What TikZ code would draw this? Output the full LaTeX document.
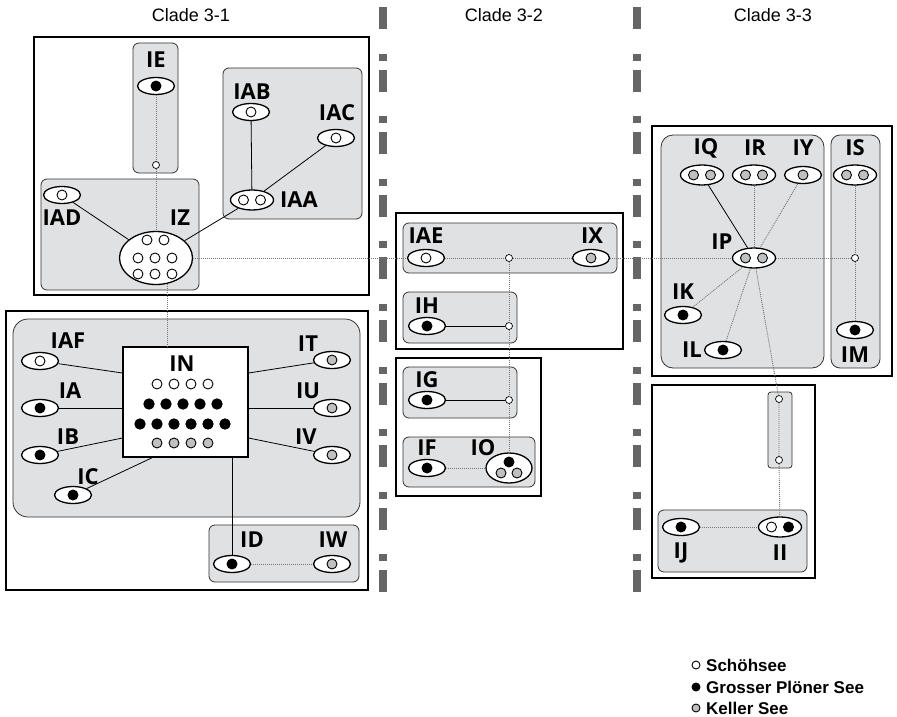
\documentclass[tikz,border=0pt]{standalone}
\usepackage{fontspec}
\setmainfont{Liberation Sans}
\newfontfamily\labfont{Open Sans}
\usetikzlibrary{shapes.geometric,positioning}
\definecolor{boxGray}{HTML}{E0E1E3}
\definecolor{kellerGray}{HTML}{BFC0C2}
\definecolor{divGray}{HTML}{666666}
\definecolor{linkGray}{HTML}{777777}

\begin{document}
\begin{tikzpicture}[x=1pt,y=-1pt,
  pop/.style={ellipse,draw,line width=1.3pt,fill=white,
              minimum width=37pt,minimum height=17pt,inner sep=0pt},
  pop2/.style={pop,minimum width=43pt,minimum height=20pt},
  lab/.style={font=\labfont\bfseries\fontsize{22}{22}\selectfont,inner sep=0pt},
  head/.style={font=\fontsize{18}{18}\selectfont,inner sep=0pt},
  legend/.style={font=\bfseries\fontsize{17}{17}\selectfont,inner sep=0pt},
  group/.style={draw=black!80,line width=0.8pt,fill=boxGray,rounded corners=6pt},
  clade/.style={draw,line width=2.6pt},
  link/.style={line width=0.8pt},
  weak/.style={draw=linkGray,line width=0.9pt,dash pattern=on 1pt off 1pt},
  hub/.style={circle,draw,line width=0.7pt,fill=white,inner sep=0pt,minimum size=7pt},
  wS/.style={draw,line width=0.9pt,fill=white},
  bP/.style={draw,line width=0.9pt,fill=black},
  gK/.style={draw,line width=0.9pt,fill=kellerGray},
  key/.style={circle,inner sep=0pt,minimum size=8pt},
  divider/.style={draw=divGray,line width=8pt,
                  dash pattern=on 22pt off 24.6pt on 7pt off 9pt},
]
\useasboundingbox (0,0) rectangle (897,717);

% clade dividers and headings
\draw[divider] (383,7) -- (383,594);
\draw[divider] (637,7) -- (637,594);
\node[head] (c31) at (191,15) {Clade 3-1};
\node[head] (c32) at (504,15) {Clade 3-2};
\node[head] (c33) at (773,15) {Clade 3-3};

% frames
\draw[clade] (34,37) rectangle (369,295);
\draw[clade] (6,311) rectangle (368,590);
\draw[clade] (396,213) rectangle (623,349);
\draw[clade] (396,358) rectangle (541,496);
\draw[clade] (652,126) rectangle (892,376);
\draw[clade] (652,385) rectangle (815,578);

\draw[group] (133,43) rectangle (178,173);
\draw[group] (223,68) rectangle (362,219);
\draw[group] (41,179) rectangle (199,290);
\draw[group,rounded corners=15pt] (13,319) rectangle (360,517);
\draw[group] (209,525) rectangle (359,582);
\draw[group] (403,223) rectangle (617,273);
\draw[group] (403,292) rectangle (517,343);
\draw[group] (403,367) rectangle (517,418);
\draw[group] (403,437) rectangle (535,487);
\draw[group,rounded corners=12pt] (661,135) rectangle (824,368);
\draw[group,rounded corners=9pt] (831,135) rectangle (880,368);
\draw[group,rounded corners=3pt] (768,392) rectangle (792,468);
\draw[group] (658,510) rectangle (807,572);

% clade 3-1
\node[pop]  (IE)  at (156,86)  {};
\node[hub]  (hIE) at (156,165) {};
\node[pop]  (IAB) at (251,112) {};
\node[pop]  (IAC) at (336,138) {};
\node[pop2] (IAA) at (252,200) {};
\node[pop]  (IAD) at (62,195)  {};
\node[pop,minimum width=73pt,minimum height=53pt] (IZ) at (156,258) {};
\node[draw,line width=1.1pt,fill=white,minimum width=125pt,minimum height=110pt,
      inner sep=0pt] (IN) at (185.5,402) {};
\node[pop] (IAF) at (40,361) {};
\node[pop] (IA)  at (40,408) {};
\node[pop] (IB)  at (40,455) {};
\node[pop] (IC)  at (73,495) {};
\node[pop] (IT)  at (332,360) {};
\node[pop] (IU)  at (332,408) {};
\node[pop] (IV)  at (332,455) {};
\node[pop] (ID)  at (232,564) {};
\node[pop] (IW)  at (332,564) {};

\node[lab] at (156,60)  {IE};
\node[lab] at (252,92)  {IAB};
\node[lab] at (337,113) {IAC};
\node[lab] at (299,200) {IAA};
\node[lab] at (62,218)  {IAD};
\node[lab] at (180,218) {IZ};
\node[lab] at (182,364) {IN};
\node[lab] at (68,341)  {IAF};
\node[lab] at (70,391)  {IA};
\node[lab] at (68,437)  {IB};
\node[lab] at (88,477)  {IC};
\node[lab] at (308,344) {IT};
\node[lab] at (308,391) {IU};
\node[lab] at (306,437) {IV};
\node[lab] at (252,540) {ID};
\node[lab] at (333,540) {IW};

% clade 3-2
\node[pop] (IAE) at (426,258) {};
\node[hub] (hAE) at (509,258) {};
\node[pop] (IX)  at (591,258) {};
\node[pop] (IH)  at (427,326) {};
\node[hub] (hH)  at (509,326) {};
\node[pop] (IG)  at (427,400) {};
\node[hub] (hG)  at (509,400) {};
\node[pop] (IF)  at (427,468) {};
\node[pop,minimum width=46pt,minimum height=30pt] (IO) at (509,468) {};

\node[lab] at (426,236) {IAE};
\node[lab] at (592,236) {IX};
\node[lab] at (427,306) {IH};
\node[lab] at (427,380) {IG};
\node[lab] at (427,448) {IF};
\node[lab] at (483,448) {IO};

% clade 3-3
\node[pop2] (IQ) at (702,175) {};
\node[pop2] (IR) at (754,175) {};
\node[pop]  (IY) at (803,175) {};
\node[pop2] (IS) at (855,175) {};
\node[pop2] (IP) at (754,258) {};
\node[hub]  (hS) at (855,258) {};
\node[pop]  (IK) at (683,315) {};
\node[pop]  (IL) at (723,350) {};
\node[pop]  (IM) at (855,330) {};
\node[hub]  (t1) at (779,399) {};
\node[hub]  (t2) at (779,460) {};
\node[pop]  (IJ) at (681,527) {};
\node[pop2] (II) at (780,527) {};

\node[lab] at (706,148) {IQ};
\node[lab] at (755,148) {IR};
\node[lab] at (803,148) {IY};
\node[lab] at (855,148) {IS};
\node[lab] at (722,242) {IP};
\node[lab] at (683,292) {IK};
\node[lab] at (692,350) {IL};
\node[lab] at (855,355) {IM};
\node[lab] at (681,553) {IJ};
\node[lab] at (780,553) {II};

% links
\draw[weak] (IE) -- (hIE) -- (IZ);
\draw[weak] (IZ.-66) -- (IZ.-66 |- IN.north);
\draw[link] (IAD) -- (IZ);
\draw[link] (IZ) -- (IAA);
\draw[link] (IAA) -- (IAB);
\draw[link] (IAA) -- (IAC);
\draw[link] (IAF) -- ([yshift=29pt]IN.west);
\draw[link] (IA) -- (IA -| IN.west);
\draw[link] (IB) -- ([yshift=-36pt]IN.west);
\draw[link] (IC) -- ([xshift=-33pt]IN.south);
\draw[link] (IT) -- ([yshift=29pt]IN.east);
\draw[link] (IU) -- (IU -| IN.east);
\draw[link] (IV) -- ([yshift=-36pt]IN.east);
\draw[link] (ID) -- (ID |- IN.south);
\draw[weak] (ID) -- (IW);

\draw[weak] (IZ) -- (IAE) -- (hAE) -- (IX) -- (IP) -- (hS);
\draw[weak] (hAE) -- (hH) -- (hG) -- (IO);
\draw[link] (IH) -- (hH);
\draw[link] (IG) -- (hG);
\draw[weak] (IF) -- (IO);

\draw[link] (IQ) -- (IP);
\draw[weak] (IR) -- (IP);
\draw[weak] (IY) -- (IP);
\draw[weak] (IK) -- (IP);
\draw[weak] (IL) -- (IP);
\draw[weak] (IS) -- (hS) -- (IM);
\draw[weak] (IP) -- (t1) -- (t2) -- (II);
\draw[weak] (IJ) -- (II);

% isolates inside each population
\draw[bP] (IE) circle (5pt);
\foreach \p in {IAB,IAC,IAD,IAF,IAE}
  \draw[wS] (\p) circle (5pt);
\foreach \p in {IA,IB,IC,ID,IH,IG,IF,IK,IL,IM,IJ}
  \draw[bP] (\p) circle (5pt);
\foreach \p in {IT,IU,IV,IW,IX,IY}
  \draw[gK] (\p) circle (5pt);
\draw[wS] ([xshift=-8.5pt]IAA.center) circle (5pt);
\draw[wS] ([xshift=8.5pt]IAA.center) circle (5pt);
\foreach \p in {IQ,IR,IS,IP} {
  \draw[gK] ([xshift=-8.5pt]\p.center) circle (5pt);
  \draw[gK] ([xshift=8.5pt]\p.center) circle (5pt);
}
\draw[wS] ([xshift=-8.5pt]II.center) circle (5pt);
\draw[bP] ([xshift=8.5pt]II.center) circle (5pt);
\draw[bP] ([yshift=6pt]IO.center) circle (5pt);
\draw[gK] ([shift={(-8pt,-5pt)}]IO.center) circle (5pt);
\draw[gK] ([shift={(8pt,-5pt)}]IO.center) circle (5pt);

\foreach \x in {147,164}
  \draw[wS] (\x,240) circle (5pt);
\foreach \x in {138,155,172} {
  \draw[wS] (\x,258) circle (5pt);
  \draw[wS] (\x,274) circle (5pt);
}
\foreach \i in {0,...,3} {
  \draw[wS] (157+17*\i,384) circle (5pt);
  \draw[gK] (157+17*\i,443) circle (5pt);
}
\foreach \i in {0,...,4}
  \draw[bP] (149+17*\i,404) circle (5.2pt);
\foreach \i in {0,...,5}
  \draw[bP] (140+17*\i,424) circle (5.2pt);

% key
\node[key,wS] (kS) at (696,665) {};
\node[key,bP] (kG) at (696,687) {};
\node[key,gK] (kK) at (696,708) {};
\node[legend,right=10pt of kS.center,anchor=west] {Schöhsee};
\node[legend,right=10pt of kG.center,anchor=west] {Grosser Plöner See};
\node[legend,right=10pt of kK.center,anchor=west] {Keller See};
\end{tikzpicture}
\end{document}
